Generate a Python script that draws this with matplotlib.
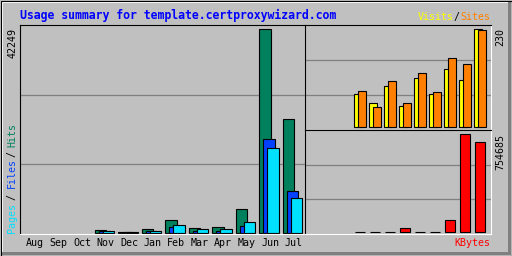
import matplotlib
matplotlib.use("Agg")
import matplotlib.pyplot as plt
from matplotlib.patches import Rectangle

# data (Aug .. Jul)
MONTHS = ["Aug", "Sep", "Oct", "Nov", "Dec", "Jan", "Feb", "Mar", "Apr", "May", "Jun", "Jul"]
HITS = [0, 0, 0, 560, 200, 770, 2575, 914, 1120, 4860, 42249, 23548]
FILES = [0, 0, 0, 290, 200, 350, 1120, 415, 350, 1330, 19468, 8637]
PAGES = [0, 0, 0, 290, 200, 350, 1600, 700, 700, 2160, 17604, 7187]
VISITS = [0, 0, 0, 77, 56, 97, 49, 116, 78, 137, 111, 230]
SITES = [0, 0, 0, 85, 47, 109, 57, 127, 83, 162, 149, 228]
KBYTES = [0, 0, 0, 4000, 4000, 4000, 30800, 4000, 4000, 92400, 754685, 693000]

BG = "#C0C0C0"
GRID = "#808080"
C_HITS, C_FILES, C_PAGES = "#00805C", "#0040FF", "#00E0FF"
C_VISITS, C_SITES, C_KB = "#FFFF00", "#FF8000", "#FF0000"

W, H = 512, 256
MONO = "DejaVu Sans Mono"

fig = plt.figure(figsize=(W / 100, H / 100), dpi=100, facecolor=BG)

# background + bevelled frame, in pixel coords
bg = fig.add_axes([0, 0, 1, 1])
bg.set_xlim(0, W)
bg.set_ylim(H, 0)
bg.axis("off")
bg.add_patch(Rectangle((0, 0), W, H, facecolor=BG, edgecolor="none"))
bg.add_patch(Rectangle((1, 1), W - 2, 2, facecolor="white", edgecolor="none"))
bg.add_patch(Rectangle((1, 1), 2, H - 2, facecolor="white", edgecolor="none"))
bg.add_patch(Rectangle((1, H - 4), W - 2, 3, facecolor=GRID, edgecolor="none"))
bg.add_patch(Rectangle((W - 4, 1), 3, H - 2, facecolor=GRID, edgecolor="none"))
bg.add_patch(Rectangle((0.5, 0.5), W - 1, H - 1, facecolor="none", edgecolor="black", lw=0.8))


def px_axes(x0, y0, x1, y1):
    ax = fig.add_axes([x0 / W, 1 - y1 / H, (x1 - x0) / W, (y1 - y0) / H])
    ax.set_facecolor(BG)
    for s in ("top", "left"):
        ax.spines[s].set_color("black")
    for s in ("bottom", "right"):
        ax.spines[s].set_color("white")
    for s in ax.spines.values():
        s.set_linewidth(0.8)
    ax.set_yticks([])
    ax.tick_params(length=0)
    for f in (1 / 3, 2 / 3):
        ax.plot([0, 1], [f, f], transform=ax.transAxes, color=GRID, lw=0.9, zorder=0)
    return ax


def set_scale(ax, y0, y1, base_px, top_px, vmax):
    # map vmax to top_px and zero to base_px
    k = vmax / (base_px - top_px)
    ax.set_ylim(-(y1 - base_px) * k, (base_px - y0) * k)


def bars(ax, xs, vals, off, width, color):
    x = [i + off for i, v in zip(xs, vals) if v > 0]
    h = [v for v in vals if v > 0]
    ax.bar(x, h, width=width, align="edge", color=color, edgecolor="black",
           linewidth=0.8, zorder=2)


idx = list(range(len(MONTHS)))

# left: hits / files / pages
ax1 = px_axes(20, 25, 304.5, 234)
ax1.set_xlim(-0.183, 11.92)
set_scale(ax1, 25, 234, 232.7, 29.3, max(HITS))
bars(ax1, idx, HITS, 0.0, 0.485, C_HITS)
bars(ax1, idx, FILES, 0.17, 0.485, C_FILES)
bars(ax1, idx, PAGES, 0.34, 0.485, C_PAGES)
ax1.set_xticks([i + 0.455 for i in idx])
ax1.set_xticklabels(MONTHS, fontfamily=MONO, fontsize=7.2)
ax1.tick_params(axis="x", length=0, pad=3)

# right top: visits / sites
ax2 = px_axes(305, 25, 490.7, 129.5)
ax2.set_xlim(-0.287, 12.09)
ax2.set_xticks([])
set_scale(ax2, 25, 129.5, 127.3, 29.3, max(VISITS))
bars(ax2, idx, VISITS, 0.0, 0.487, C_VISITS)
bars(ax2, idx, SITES, 0.267, 0.487, C_SITES)

# right bottom: kbytes
ax3 = px_axes(305, 130, 490.7, 234)
ax3.set_xlim(-0.287, 12.09)
ax3.set_xticks([])
set_scale(ax3, 130, 234, 232.3, 134.3, max(KBYTES))
bars(ax3, idx, KBYTES, 0.047, 0.647, C_KB)

# texts
bg.text(20, 15, "Usage summary for template.certproxywizard.com", color="#0000FF",
        fontfamily=MONO, fontweight="bold", fontsize=8.3, ha="left", va="center")
bg.text(490, 17, "Sites", color=C_SITES, fontfamily=MONO, fontsize=7.2, ha="right", va="center")
bg.text(460, 17, "/", color="black", fontfamily=MONO, fontsize=7.2, ha="right", va="center")
bg.text(454, 17, "Visits", color=C_VISITS, fontfamily=MONO, fontsize=7.2, ha="right", va="center")
bg.text(490, 243, "KBytes", color=C_KB, fontfamily=MONO, fontsize=7.2, ha="right", va="center")

for label, y, c in [("Pages", 232.7, C_PAGES), ("/", 200, "black"), ("Files", 188.3, C_FILES),
                    ("/", 156.7, "black"), ("Hits", 146.7, C_HITS)]:
    bg.text(12, y, label, color=c, fontfamily=MONO, fontsize=7.2, rotation=90,
            ha="center", va="bottom")

bg.text(13, 28, str(max(HITS)), color="black", fontfamily=MONO, fontsize=7.2,
        rotation=90, ha="center", va="top")
bg.text(500, 28, str(max(VISITS)), color="black", fontfamily=MONO, fontsize=7.2,
        rotation=90, ha="center", va="top")
bg.text(500, 133.5, str(max(KBYTES)), color="black", fontfamily=MONO, fontsize=7.2,
        rotation=90, ha="center", va="top")

fig.savefig("out.png", dpi=100, facecolor=BG)
